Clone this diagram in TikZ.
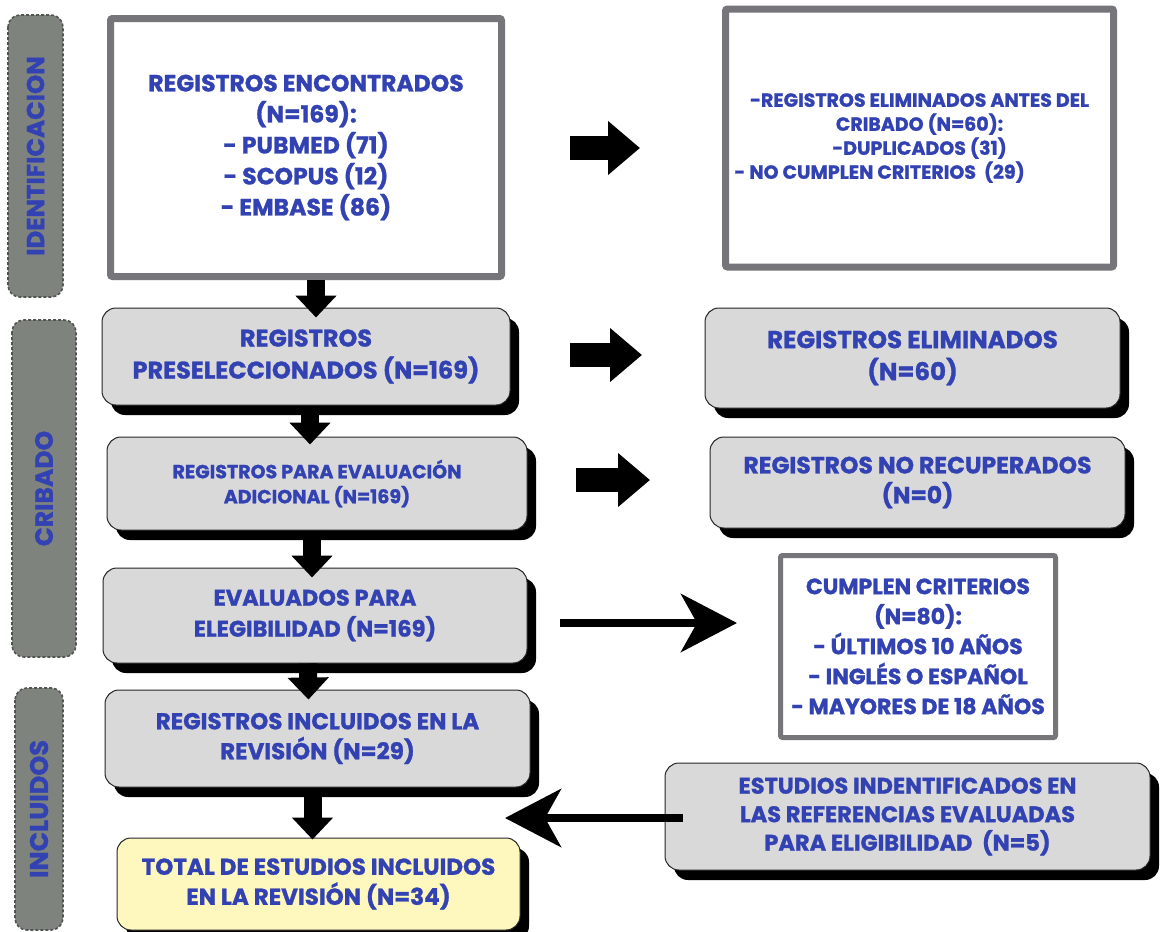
\documentclass[tikz,border=0pt]{standalone}
\usepackage{fontspec}
\newfontfamily\pf{Poppins}[BoldFeatures={FakeBold=1.2}]
\usetikzlibrary{arrows.meta,shadows}
\definecolor{txtblue}{RGB}{50,66,178}
\definecolor{sidegray}{RGB}{126,131,126}
\definecolor{sideedge}{RGB}{80,85,80}
\definecolor{boxgray}{RGB}{217,217,217}
\definecolor{frameg}{RGB}{118,118,122}
\definecolor{yel}{RGB}{255,248,190}
\tikzset{
  sidelab/.style={draw=sideedge, dash pattern=on 3pt off 2pt, line width=1.6pt, fill=sidegray,
    rounded corners=12pt, rotate=90, text=txtblue, inner sep=0pt},
  framebox/.style={draw=frameg, line width=7pt, fill=white, rounded corners=2pt,
    align=center, text=txtblue, inner sep=0pt},
  gbox/.style={draw=black!85, line width=1pt, fill=boxgray, rounded corners=14pt,
    align=center, text=txtblue, inner sep=0pt,
    general shadow={fill=black, shadow xshift=9pt, shadow yshift=-10pt}},
  ybox/.style={gbox, fill=yel},
  downarrow/.style={line width=18pt, -{Triangle[width=40pt,length=22pt]}},
  rightarrow/.style={line width=24pt, -{Triangle[width=52pt,length=32pt]}},
  longarrow/.style={line width=8pt, -{Stealth[width=58pt,length=56pt,inset=16pt]}}
}
\newcommand{\fs}[2]{\pf\bfseries\fontsize{#1}{#2}\selectfont}
\begin{document}
\begin{tikzpicture}[x=1pt,y=-1pt]
\useasboundingbox[fill=white] (0,0) rectangle (1163,932);

% side labels
\node[sidelab, minimum width=282pt, minimum height=55pt, font=\fs{24.5pt}{26pt}] (sid) at (35.5,156) {IDENTIFICACION};
\node[sidelab, minimum width=337pt, minimum height=64pt, font=\fs{25pt}{26pt}] (scr) at (44,488.5) {CRIBADO};
\node[sidelab, minimum width=242pt, minimum height=48pt, font=\fs{25.5pt}{26pt}] (sin) at (39,809) {INCLUIDOS};

% top boxes
\node[framebox, minimum width=391pt, minimum height=258pt, font=\fs{23.5pt}{31pt}] (tl) at (306,147.5)
  {REGISTROS ENCONTRADOS\\(N=169):\\- PUBMED (71)\\- SCOPUS (12)\\- EMBASE (86)};
\node[framebox, minimum width=388pt, minimum height=258pt, font=\fs{19pt}{24pt}] (tr) at (919.5,138)
  {-REGISTROS ELIMINADOS ANTES DEL\\CRIBADO (N=60):\\-DUPLICADOS (31)\\- NO CUMPLEN CRITERIOS~~(29)\hspace*{80pt}};

% left column
\node[gbox, minimum width=408pt, minimum height=97pt, font=\fs{24pt}{32pt}] (b1) at (306,356.5)
  {REGISTROS\\PRESELECCIONADOS (N=169)};
\node[gbox, minimum width=420pt, minimum height=93pt, font=\fs{19pt}{25pt}] (b2) at (317,483.5)
  {REGISTROS PARA EVALUACIÓN\\ADICIONAL (N=169)};
\node[gbox, minimum width=424pt, minimum height=95pt, font=\fs{22.5pt}{31pt}] (b3) at (315,615.5)
  {EVALUADOS PARA\\ELEGIBILIDAD (N=169)};
\node[gbox, minimum width=425pt, minimum height=97pt, font=\fs{23pt}{30pt}] (b4) at (317.5,738.5)
  {REGISTROS INCLUIDOS EN LA\\REVISIÓN (N=29)};
\node[ybox, minimum width=403pt, minimum height=92pt, font=\fs{23pt}{30pt}] (b5) at (318.5,884)
  {TOTAL DE ESTUDIOS INCLUIDOS\\EN LA REVISIÓN (N=34)};

% right column
\node[gbox, minimum width=415pt, minimum height=100pt, font=\fs{24.5pt}{32pt}] (r1) at (912.5,358)
  {REGISTROS ELIMINADOS\\(N=60)};
\node[gbox, minimum width=415pt, minimum height=91pt, font=\fs{23.5pt}{30pt}] (r2) at (917.5,482.5)
  {REGISTROS NO RECUPERADOS\\(N=0)};
\node[framebox, line width=5pt, minimum width=275pt, minimum height=182pt, font=\fs{22pt}{30pt}] (cc) at (918,646.5)
  {CUMPLEN CRITERIOS\\(N=80):\\- ÚLTIMOS 10 AÑOS\\- INGLÉS O ESPAÑOL\\- MAYORES DE 18 AÑOS};
\node[gbox, minimum width=485pt, minimum height=107pt, font=\fs{22.5pt}{28.5pt}] (r3) at (907.5,816.5)
  {ESTUDIOS INDENTIFICADOS EN\\LAS REFERENCIAS EVALUADAS\\PARA ELIGIBILIDAD~~(N=5)};

% vertical block arrows
\draw[downarrow] ([xshift=10pt]tl.south) -- ([xshift=10pt,yshift=-10pt]b1.north);
\draw[downarrow] ([xshift=4pt]b1.south) -- ([xshift=-7pt,yshift=-8pt]b2.north);
\draw[downarrow] ([xshift=-5pt]b2.south) -- ([xshift=-3pt,yshift=-10pt]b3.north);
\draw[downarrow] ([xshift=-7pt]b3.south) -- ([xshift=-9pt,yshift=-10pt]b4.north);
\draw[downarrow] ([xshift=-5pt]b4.south) -- ([xshift=-6pt,yshift=-2pt]b5.north);

% horizontal arrows
\coordinate (a1s) at (570,148); \coordinate (a1e) at (640,148);
\coordinate (a2s) at (570,355); \coordinate (a2e) at (642,355);
\coordinate (a3s) at (576,480); \coordinate (a3e) at (650,480);
\coordinate (a4s) at (560,623); \coordinate (a4e) at (737,623);
\coordinate (a5s) at (683,818); \coordinate (a5e) at (505,818);
\draw[rightarrow] (a1s) -- (a1e);
\draw[rightarrow] (a2s) -- (a2e);
\draw[rightarrow] (a3s) -- (a3e);
\draw[longarrow] (a4s) -- (a4e);
\draw[longarrow] (a5s) -- (a5e);
\end{tikzpicture}
\end{document}
